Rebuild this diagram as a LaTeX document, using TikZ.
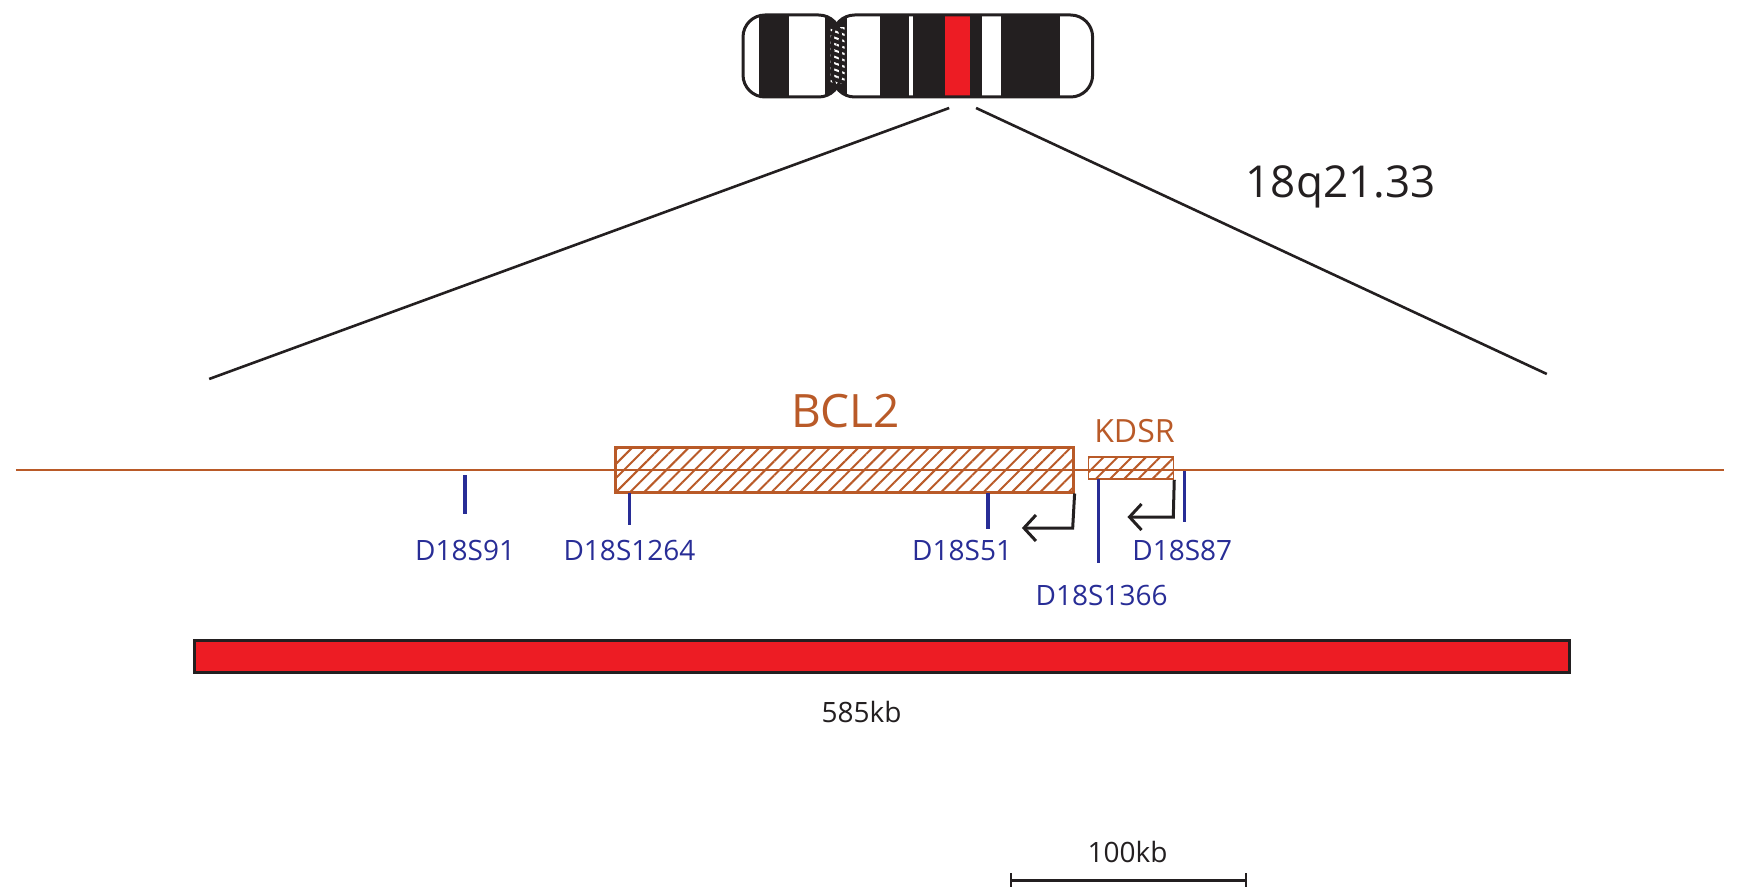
\documentclass[tikz,border=0pt]{standalone}
\usepackage{fontspec}
\setmainfont{Open Sans}
\usetikzlibrary{patterns.meta,arrows.meta}
\definecolor{gene}{RGB}{185,90,40}
\definecolor{mkc}{RGB}{40,45,150}
\definecolor{dk}{RGB}{35,31,32}
\definecolor{rd}{RGB}{237,28,36}
\begin{document}
\begin{tikzpicture}[x=0.996pt,y=-1pt,
  lab/.style={font=\fontsize{28}{30}\selectfont,text=mkc},
  mk/.style={draw=mkc,line width=3.5pt},
  hatch/.style={pattern={Lines[angle=45,distance=10pt,line width=2pt]},pattern color=gene},
  tss/.style={draw=dk,line width=3pt,-{Straight Barb[length=12pt,width=26pt,line width=3pt]}}]
\useasboundingbox (0,0) rectangle (1749,896);
% chromosome
\begin{scope}
\clip[rounded corners=22pt] (746,15) rectangle (844,97);
\fill[dk] (762,15) rectangle (792,97);
\fill[dk] (828,15) rectangle (844,97);
\end{scope}
\begin{scope}
\clip[rounded corners=22pt] (836,15) rectangle (1097,97);
\fill[dk] (836,15) rectangle (850,97);
\fill[dk] (884,15) rectangle (913,97);
\fill[dk] (917,15) rectangle (949,97);
\fill[rd] (949,15) rectangle (974,97);
\fill[dk] (974,15) rectangle (986,97);
\fill[dk] (1005,15) rectangle (1064,97);
\end{scope}
\fill[pattern={Lines[angle=-20,distance=6pt,line width=2pt]},pattern color=white] (834,28) rectangle (848,84);
\draw[dk,line width=3pt,rounded corners=22pt] (746,15) rectangle (844,97);
\draw[dk,line width=3pt,rounded corners=22pt] (836,15) rectangle (1097,97);
\coordinate (cl) at (953,108); \coordinate (cr) at (980,108);
\coordinate (zl) at (210,379); \coordinate (zr) at (1553,374);
\draw[dk,line width=2.6pt] (cl) -- (zl);
\draw[dk,line width=2.6pt] (cr) -- (zr);
\node[font=\fontsize{44}{48}\selectfont,text=dk] (band) at (1346,187) {18q21.33};
% gene line
\coordinate (gl) at (16,470); \coordinate (gr) at (1731,470);
\draw[gene,line width=2.4pt] (gl) -- (gr);
\node[draw=gene,line width=3.5pt,fill=white,hatch,minimum width=458pt,minimum height=45pt,inner sep=0pt] (bcl2) at (848,470) {};
\node[draw=gene,line width=1.6pt,fill=white,hatch,minimum width=85pt,minimum height=22pt,inner sep=0pt] (kdsr) at (1135.5,468) {};
\node[font=\fontsize{46}{50}\selectfont,text=gene] at (849,411) {BCL2};
\node[font=\fontsize{32}{34}\selectfont,text=gene] at (1139,431) {KDSR};
% markers
\draw[mk] (467,475) -- (467,514);
\draw[mk] (632,493) -- (632,525);
\draw[mk] (992,493) -- (992,529);
\draw[mk] (1103,479) -- (1103,563);
\draw[mk] (1189,471) -- (1189,522);
\node[lab] at (467,550) {D18S91};
\node[lab] at (632,550) {D18S1264};
\node[lab] at (966,550) {D18S51};
\node[lab] at (1106,595) {D18S1366};
\node[lab] at (1187,550) {D18S87};
% TSS arrows
\draw[tss] (bcl2.south east) -- (1077,528) -- (1026,528);
\draw[tss] (kdsr.south east) -- (1178,517) -- (1132,517);
% red bar
\node[draw=dk,line width=3pt,fill=rd,minimum width=1375pt,minimum height=32pt,inner sep=0pt] (bar) at (885.5,656) {};
\node[font=\fontsize{28}{30}\selectfont,text=dk] at (865,712) {585kb};
% scale
\coordinate (sa) at (1015,880); \coordinate (sb) at (1251,880);
\draw[dk,line width=3pt] (sa) -- (sb);
\draw[dk,line width=2.5pt] (1015,873) -- (1015,887) (1251,873) -- (1251,887);
\node[font=\fontsize{28}{30}\selectfont,text=dk] at (1132,852) {100kb};
\end{tikzpicture}
\end{document}
